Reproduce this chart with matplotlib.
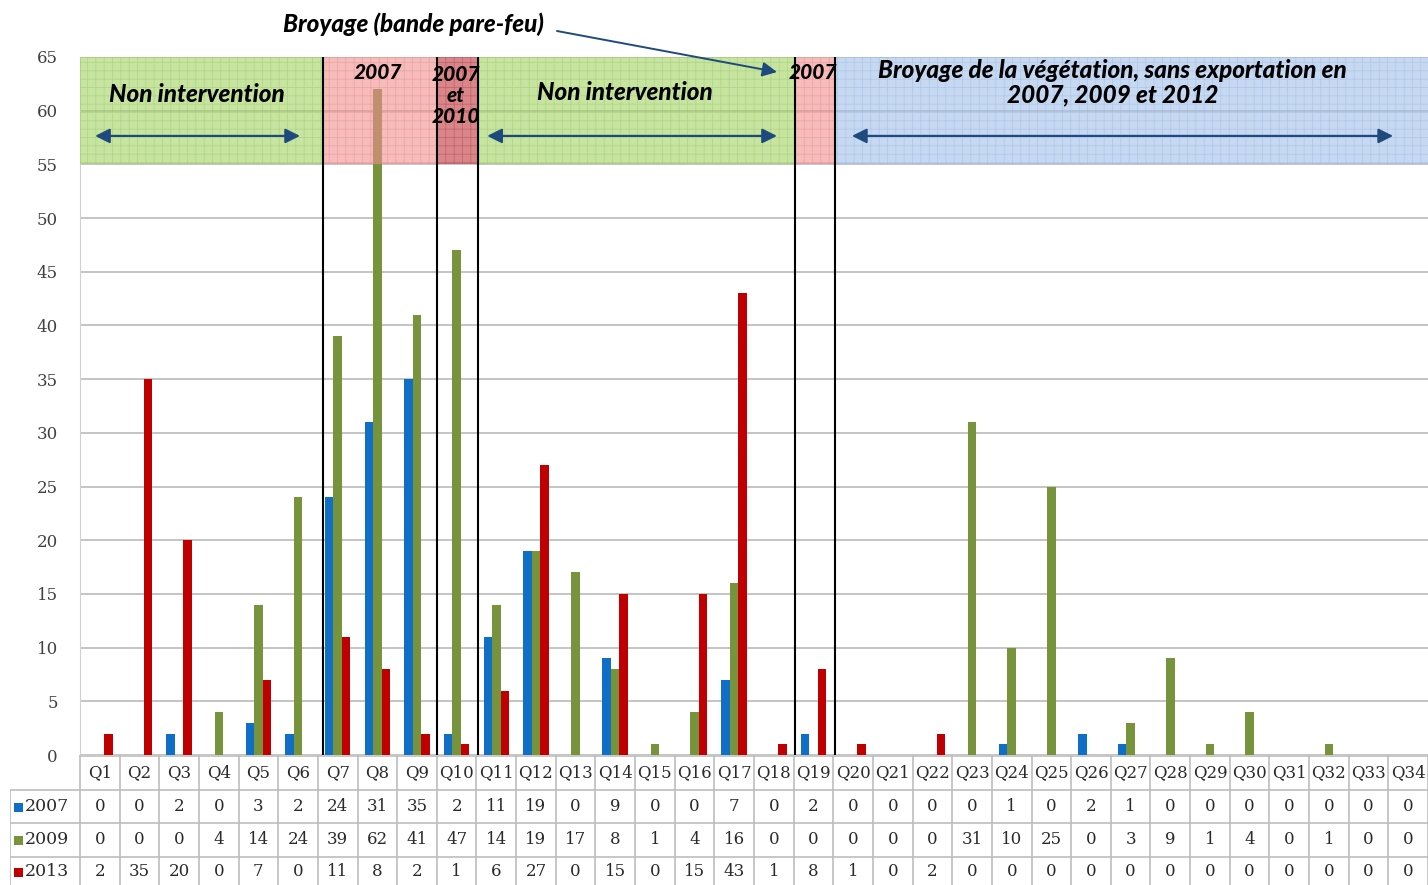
import matplotlib
matplotlib.use("Agg")
import matplotlib.pyplot as plt
from matplotlib.patches import Rectangle
import numpy as np

categories = [f"Q{i}" for i in range(1, 35)]
years = ["2007", "2009", "2013"]
v2007 = [0, 0, 2, 0, 3, 2, 24, 31, 35, 2, 11, 19, 0, 9, 0, 0, 7, 0, 2, 0, 0, 0, 0, 1, 0, 2, 1, 0, 0, 0, 0, 0, 0, 0]
v2009 = [0, 0, 0, 4, 14, 24, 39, 62, 41, 47, 14, 19, 17, 8, 1, 4, 16, 0, 0, 0, 0, 0, 31, 10, 25, 0, 3, 9, 1, 4, 0, 1, 0, 0]
v2013 = [2, 35, 20, 0, 7, 0, 11, 8, 2, 1, 6, 27, 0, 15, 0, 15, 43, 1, 8, 1, 0, 2, 0, 0, 0, 0, 0, 0, 0, 0, 0, 0, 0, 0]
series = [v2007, v2009, v2013]
colors = ["#0f6fc6", "#77933c", "#c00000"]

# zone boundaries (category index units)
zone_edges = [-0.5, 5.62, 8.5, 9.54, 17.53, 18.54, 33.5]
zone_colors = ["#a2d261", "#f08f8f", "#c0353c", "#a2d261", "#f08f8f", "#a3c1e9"]
zone_hatch = ["#8cc050", "#e07a7a", "#a02a30", "#8cc050", "#e07a7a", "#85abe0"]

W, H = 1428, 885
fig = plt.figure(figsize=(W / 100, H / 100), dpi=100)
serif = "DejaVu Serif"
annot = ["Lato", "DejaVu Sans"]
plt.rcParams["hatch.linewidth"] = 0.6

ax = fig.add_axes([80 / W, 130 / H, 1348 / W, 698 / H])
n = len(categories)
x = np.arange(n)
bw = 0.215
offs = [-0.215, 0.0, 0.215]
for vals, c, o in zip(series, colors, offs):
    ax.bar(x + o, vals, width=bw, color=c, zorder=2, linewidth=0)

ax.set_xlim(-0.5, n - 0.5)
ax.set_ylim(0, 65)
ax.set_yticks(np.arange(0, 66, 5))
ax.set_xticks([])
ax.yaxis.grid(True, color="#c4c4c4", lw=1.4, zorder=0)
ax.set_axisbelow(True)
ax.tick_params(axis="y", length=0, pad=16, labelsize=12, labelcolor="#404040")
for lab in ax.get_yticklabels():
    lab.set_fontfamily(serif)
for s in ["top", "right", "bottom"]:
    ax.spines[s].set_visible(False)
ax.spines["left"].set_color("#d0d0d0")

# zones band
for i in range(len(zone_colors)):
    x0, x1 = zone_edges[i], zone_edges[i + 1]
    r = Rectangle((x0, 55), x1 - x0, 10, facecolor=zone_colors[i], alpha=0.6,
                  edgecolor="none", zorder=3)
    ax.add_patch(r)
    r2 = Rectangle((x0, 55), x1 - x0, 10, facecolor="none", edgecolor=zone_hatch[i],
                   hatch="++", linewidth=0, alpha=0.35, zorder=3.1)
    ax.add_patch(r2)

for xe in zone_edges[1:-1]:
    ax.plot([xe, xe], [0, 65], color="black", lw=1.5, zorder=5, solid_capstyle="butt")

tk = dict(fontfamily=annot, fontweight="black", fontstyle="italic", color="black",
          ha="center", va="center", zorder=6)
ax.text(2.45, 61.5, "Non intervention", fontsize=17.5, **tk)
ax.text(13.25, 61.65, "Non intervention", fontsize=17.5, **tk)
ax.text(7.02, 63.6, "2007", fontsize=15, **tk)
ax.text(8.98, 61.4, "2007\net\n2010", fontsize=15, linespacing=1.12, **tk)
ax.text(17.98, 63.6, "2007", fontsize=15, **tk)
ax.text(25.55, 62.6, "Broyage de la végétation, sans exportation en\n2007, 2009 et 2012",
        fontsize=17.5, linespacing=1.07, **tk)

arrow_col = "#1f4a7e"
for a0, a1 in [(-0.12, 5.05), (9.77, 17.08), (18.97, 32.62)]:
    ax.annotate("", xy=(a1, 57.65), xytext=(a0, 57.65),
                arrowprops=dict(arrowstyle="<|-|>", color=arrow_col, lw=1.6,
                                mutation_scale=22, shrinkA=0, shrinkB=0), zorder=6)

fig.text(413 / W, 1 - 24 / H, "Broyage (bande pare-feu)", fontsize=17.5,
         fontfamily=annot, fontweight="black", fontstyle="italic", ha="center", va="center")
ax.annotate("", xy=(17.08, 63.6), xycoords="data", xytext=(557 / W, 1 - 31 / H),
            textcoords="figure fraction",
            arrowprops=dict(arrowstyle="-|>", color=arrow_col, lw=1.4, mutation_scale=22,
                            shrinkA=0, shrinkB=0), annotation_clip=False, zorder=6)

# data table
tab = fig.add_axes([10 / W, 0, 1418 / W, 130 / H])
xl = -0.5 - 70 / (1348 / n)
tab.set_xlim(xl, n - 0.5)
tab.set_ylim(885, 755)
tab.axis("off")
gc = "#bdbdbd"
tab.plot([-0.5, n - 0.5], [756, 756], color=gc, lw=1.2)
for yy in [790, 823, 857]:
    tab.plot([xl, n - 0.5], [yy, yy], color=gc, lw=1.2)
tab.plot([xl, xl], [790, 885], color=gc, lw=1.2)
tab.plot([-0.5, -0.5], [756, 885], color=gc, lw=1.2)
for i in range(n):
    tab.plot([i + 0.5, i + 0.5], [756, 885], color=gc, lw=1.2)
tfont = dict(fontfamily=serif, fontsize=12, color="#2a2a2a", ha="center", va="center")
for i, c in enumerate(categories):
    tab.text(i, 773, c, **tfont)
rows_y = [807, 840, 872]
pxu = 1348 / n
for yr, vals, c, yy in zip(years, series, colors, rows_y):
    tab.add_patch(Rectangle((xl + 4 / pxu, yy - 4), 8.5 / pxu, 9, color=c, lw=0))
    tab.text(xl + 15 / pxu, yy, yr, fontfamily=serif, fontsize=12.5, color="#2a2a2a",
             ha="left", va="center")
    for i, v in enumerate(vals):
        tab.text(i, yy, str(v), **tfont)

fig.savefig("out.png", dpi=100)
